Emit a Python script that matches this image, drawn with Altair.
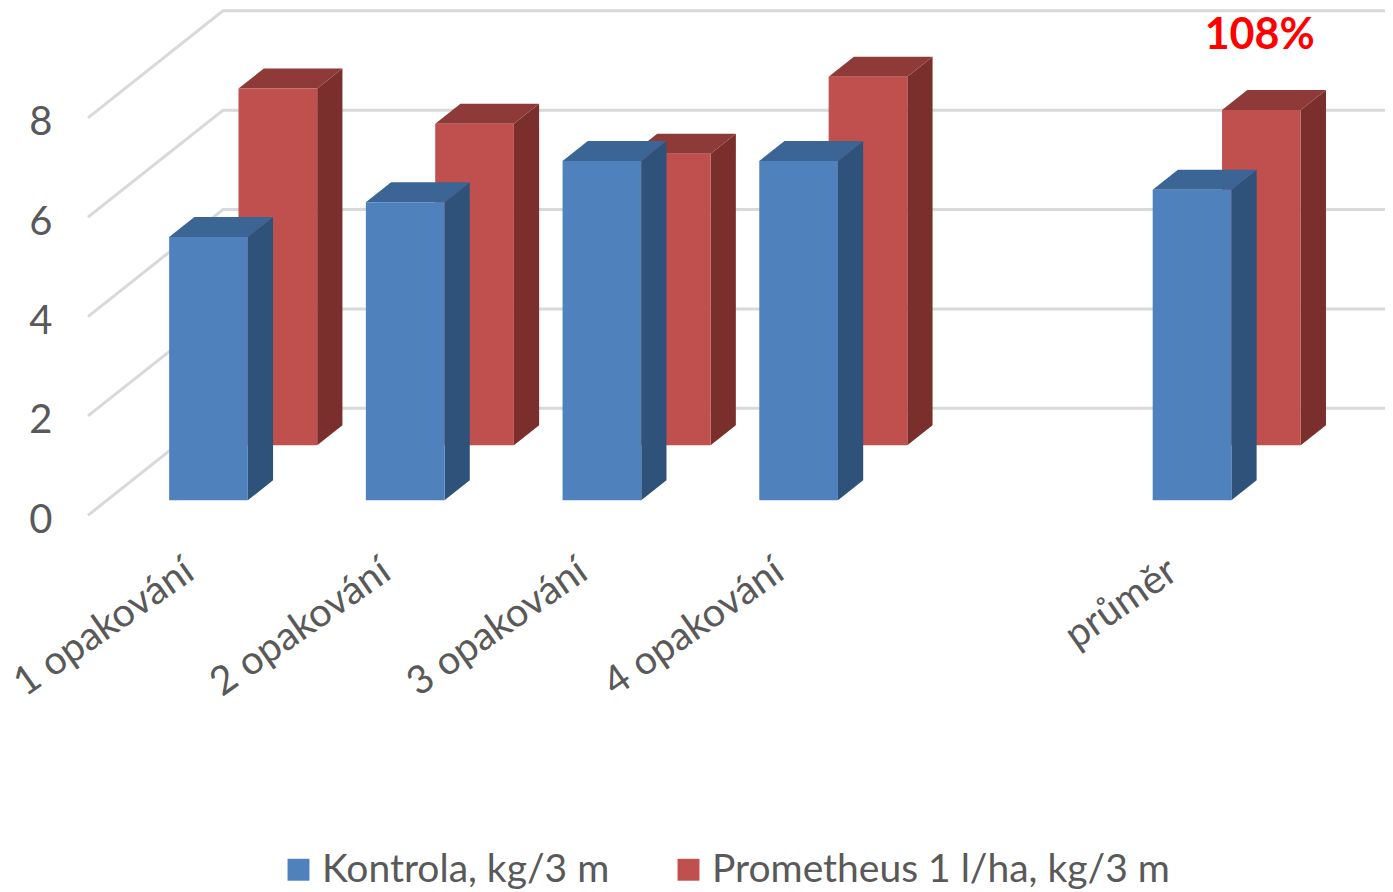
import altair as alt
import pandas as pd

# --- values ---
categories = ["1 opakování", "2 opakování", "3 opakování", "4 opakování", "", "průměr"]
kontrola = [5.3, 6.0, 6.83, 6.83, None, 6.25]
prometheus = [7.18, 6.47, 5.87, 7.42, None, 6.75]
grid_values = [0, 2, 4, 6, 8]
series_names = ["Kontrola, kg/3 m", "Prometheus 1 l/ha, kg/3 m"]
annotation = "108%"

# --- pseudo-3D layout, in scale units (category steps / axis units) ---
X_DOMAIN = [-0.5165, 6.077]
Y_DOMAIN = [-7.42, 10.21]
DEPTH_X = 0.686          # horizontal shift of the full floor depth
DEPTH_Y = 2.153          # vertical shift of the full floor depth
HALF_W = 0.2
BAR_DEPTH = 0.187
FRONT = {series_names[0]: 0.14, series_names[1]: 0.654}
PALETTE = {series_names[0]: ("#4F81BD", "#3A6595", "#2F527A"),
           series_names[1]: ("#C0504D", "#8E3A38", "#7B2F2D")}

x_scale = alt.Scale(domain=X_DOMAIN, nice=False, zero=False)
y_scale = alt.Scale(domain=Y_DOMAIN, nice=False, zero=False)
y_axis = alt.Axis(values=grid_values, domain=False, ticks=False, grid=False, title=None,
                  labelFontSize=40, labelColor="#595959", labelFont="Lato",
                  labelPadding=36, labelOffset=5, format="d")
X = lambda f="x": alt.X(f"{f}:Q", scale=x_scale, axis=None)
Y = lambda f="y": alt.Y(f"{f}:Q", scale=y_scale, axis=y_axis)

# grid
grid_rows = []
for v in grid_values:
    grid_rows += [{"g": v, "x": X_DOMAIN[0], "y": v},
                  {"g": v, "x": X_DOMAIN[0] + DEPTH_X, "y": v + DEPTH_Y},
                  {"g": v, "x": X_DOMAIN[1], "y": v + DEPTH_Y}]
grid = alt.Chart(pd.DataFrame(grid_rows)).mark_line(color="#D9D9D9", strokeWidth=3).encode(
    x=X(), y=Y(), detail="g:N", order=alt.Order("x:Q"))


def series_layers(name, values):
    depth = FRONT[name]
    front, top, side = [], [], []
    for i, v in enumerate(values):
        if v is None:
            continue
        xl = i + depth * DEPTH_X - HALF_W
        xr = i + depth * DEPTH_X + HALF_W
        y0 = depth * DEPTH_Y
        t = v + y0
        dx = BAR_DEPTH * DEPTH_X
        dy = BAR_DEPTH * DEPTH_Y
        front.append({"s": name, "x": xl, "x2": xr, "y": y0, "y2": t})
        top += [{"c": i, "x": xl, "y": t, "y2": t},
                {"c": i, "x": xl + dx, "y": t, "y2": t + dy},
                {"c": i, "x": xr, "y": t, "y2": t + dy},
                {"c": i, "x": xr + dx, "y": t + dy, "y2": t + dy}]
        side += [{"c": i, "x": xr, "y": y0, "y2": t},
                 {"c": i, "x": xr + dx, "y": y0 + dy, "y2": t + dy}]
    f, tc, sc = PALETTE[name]
    side_l = alt.Chart(pd.DataFrame(side)).mark_area(color=sc).encode(
        x=X(), y=Y(), y2="y2:Q", detail="c:N")
    top_l = alt.Chart(pd.DataFrame(top)).mark_area(color=tc).encode(
        x=X(), y=Y(), y2="y2:Q", detail="c:N")
    front_l = alt.Chart(pd.DataFrame(front)).mark_rect().encode(
        x=X(), x2="x2:Q", y=Y(), y2="y2:Q",
        color=alt.Color("s:N",
                        scale=alt.Scale(domain=series_names, range=[PALETTE[n][0] for n in series_names]),
                        legend=alt.Legend(orient="none", legendX=191, legendY=842, direction="horizontal",
                                          title=None, symbolType="square", symbolSize=480,
                                          symbolStrokeWidth=0, labelFontSize=39, labelFont="Lato",
                                          labelColor="#595959", columnPadding=59, labelLimit=600,
                                          labelOffset=4)))
    return [side_l, top_l, front_l]


# category labels
label_rows = [{"x": i, "y": -1.05, "t": c} for i, c in enumerate(categories) if c]
labels = alt.Chart(pd.DataFrame(label_rows)).mark_text(
    angle=325, align="right", baseline="middle", fontSize=39.5, font="Lato", color="#595959"
).encode(x=X(), y=Y(), text="t:N")

# annotation above the average bar
note = alt.Chart(pd.DataFrame([{"x": 5.44, "y": 9.65, "t": annotation}])).mark_text(
    align="center", baseline="middle", fontSize=43, font="Lato", fontWeight="bold", color="#FF0000"
).encode(x=X(), y=Y(), text="t:N")

layers = [grid] + series_layers(series_names[1], prometheus) + series_layers(series_names[0], kontrola) + [labels, note]

chart = alt.layer(*layers).properties(
    width=1297, height=876, padding={"left": 80, "top": 0, "right": 0, "bottom": 8},
    autosize=alt.AutoSizeParams(type="none"),
).configure_view(stroke=None)

chart.save("out.html", embed_options={"renderer": "svg", "actions": False})
